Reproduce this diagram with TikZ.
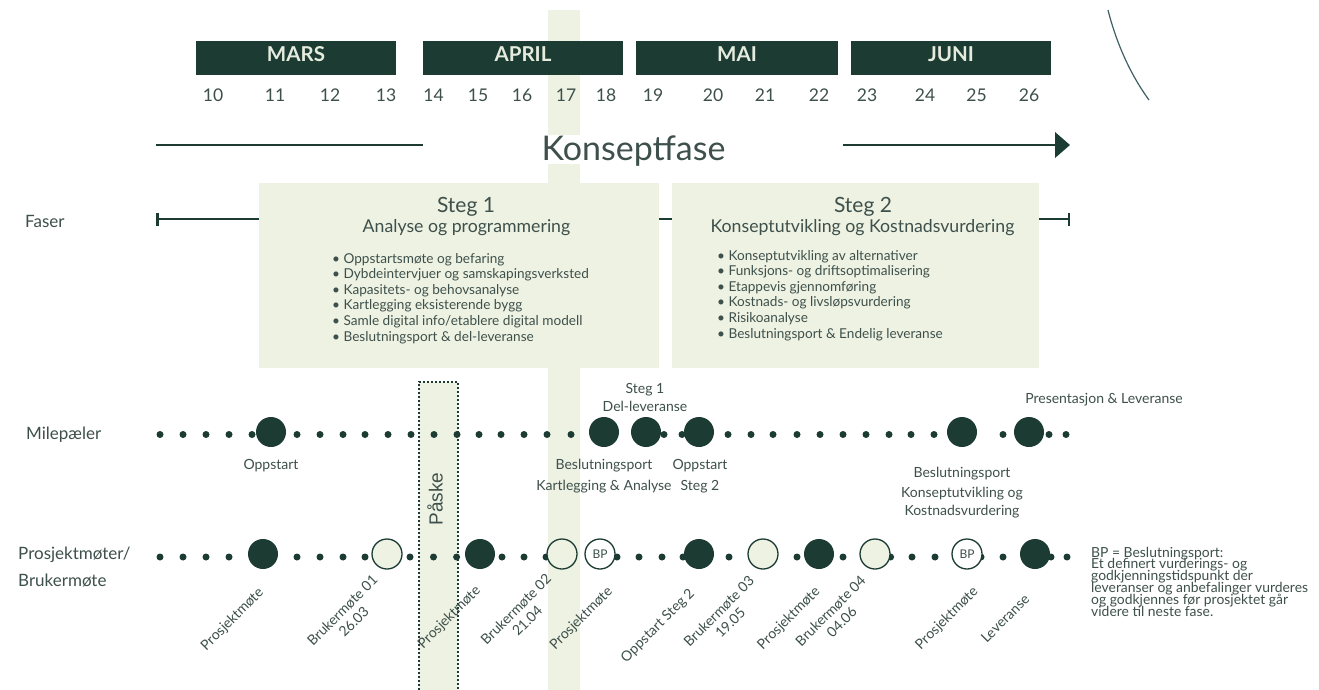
\documentclass[tikz,border=0pt]{standalone}
\usepackage{fontspec}
\setmainfont{Lato}
\newfontfamily\paskefont{Liberation Sans}
\usetikzlibrary{arrows.meta}
\definecolor{dkgreen}{HTML}{1B3B33}
\definecolor{ltgreen}{HTML}{EEF2E3}
\definecolor{txtgreen}{HTML}{3E504B}
\definecolor{arcblue}{HTML}{3E5F66}
\definecolor{monthtxt}{HTML}{E6ECDD}
\newcommand{\fsz}[2]{\fontsize{#1}{#2}\selectfont}
\begin{document}
\begin{tikzpicture}[x=1pt,y=-1pt,
  monthbox/.style={fill=dkgreen, minimum height=34pt, inner sep=0pt},
  monthlbl/.style={text=monthtxt, font=\fsz{20.5}{24}\bfseries, inner sep=0pt, anchor=base},
  weeknum/.style={text=txtgreen, font=\fsz{17.5}{20}, inner sep=0pt, anchor=base},
  rowlbl/.style={text=txtgreen, font=\fsz{17}{20}, inner sep=0pt, anchor=base west},
  stegbox/.style={fill=ltgreen, inner sep=0pt},
  stegtitle/.style={text=txtgreen, font=\fsz{21}{24}, inner sep=0pt, anchor=base},
  stegsub/.style={text=txtgreen, font=\fsz{17.7}{20}, inner sep=0pt, anchor=base},
  bulletline/.style={text=txtgreen, font=\fsz{13.6}{16}, inner sep=0pt, anchor=base west},
  mlbl/.style={text=txtgreen, font=\fsz{14}{16}, inner sep=0pt, anchor=base},
  rlbl/.style={text=txtgreen, font=\fsz{14}{16}, inner sep=0pt, rotate=45, align=center},
  notelbl/.style={text=txtgreen, font=\fsz{13.9}{12}, inner sep=0pt, anchor=base west},
  sdot/.style={circle, fill=dkgreen, inner sep=0pt, minimum size=7pt},
  bdot/.style={circle, fill=dkgreen, inner sep=0pt, minimum size=30pt},
  odot/.style={circle, fill=ltgreen, draw=dkgreen, line width=1.3pt, inner sep=0pt, minimum size=30pt},
  bpdot/.style={circle, fill=white, draw=dkgreen, line width=1.3pt, inner sep=0pt, minimum size=30pt, text=txtgreen, font=\fsz{12}{12}},
]
\useasboundingbox (0,0) rectangle (1319,690);
\fill[white] (0,0) rectangle (1319,690);

% vertical band (week 17)
\fill[ltgreen] (548,10) rectangle (580,690);
% Paske box
\fill[ltgreen] (419,382) rectangle (458,690);

% Faser line
\coordinate (fl) at (156,219);
\coordinate (fr) at (1070,219);
\draw[dkgreen, line width=2.5pt, {Bar[width=13pt]}-{Bar[width=13pt]}] (fl) -- (fr);

% Steg boxes
\node[stegbox, minimum width=400pt, minimum height=185pt] (steg1) at (459,275.5) {};
\node[stegbox, minimum width=367pt, minimum height=185pt] (steg2) at (855.5,275.5) {};
\node[stegtitle] (s1t) at (466,212.5) {Steg 1};
\node[stegsub] (s1s) at (466.5,232) {Analyse og programmering};
\node[stegtitle] (s2t) at (863,212.5) {Steg 2};
\node[stegsub] (s2s) at (862.5,232) {Konseptutvikling og Kostnadsvurdering};
\foreach \t [count=\i] in {Oppstartsmøte og befaring, Dybdeintervjuer og samskapingsverksted, Kapasitets- og behovsanalyse, Kartlegging eksisterende bygg, Samle digital info/etablere digital modell, Beslutningsport \& del-leveranse}
  \node[bulletline] (sa\i) at (332,{263+15.6*(\i-1)}) {• \t};
\foreach \t [count=\i] in {Konseptutvikling av alternativer, Funksjons- og driftsoptimalisering, Etappevis gjennomføring, Kostnads- og livsløpsvurdering, Risikoanalyse, Beslutningsport \& Endelig leveranse}
  \node[bulletline] (sb\i) at (717,{260+15.6*(\i-1)}) {• \t};

% Months
\node[monthbox, minimum width=200pt] (mars) at (296,58) {};
\node[monthbox, minimum width=200pt] (april) at (523,58) {};
\node[monthbox, minimum width=202pt] (mai) at (737,58) {};
\node[monthbox, minimum width=200pt] (juni) at (951,58) {};
\node[monthlbl] (marsl) at (296,62) {MARS};
\node[monthlbl] (aprill) at (523,62) {APRIL};
\node[monthlbl] (mail) at (737,62) {MAI};
\node[monthlbl] (junil) at (951,62) {JUNI};
\foreach \n/\x in {10/213, 11/275, 12/330, 13/386, 14/433.5, 15/478, 16/522, 17/566, 18/606, 19/653, 20/713, 21/765, 22/819, 23/867, 24/925, 25/976.5, 26/1029}
  \node[weeknum] (w\n) at (\x,101.5) {\n};

% Konseptfase
\fill[white] (540,135) rectangle (727,164);
\node[text=txtgreen, font=\fsz{34}{40}, inner sep=0pt, anchor=base] (kf) at (633.5,160) {Konseptfase};
\coordinate (kl1) at (156,145);
\coordinate (kl2) at (423,145);
\coordinate (kr1) at (843,145);
\coordinate (kr2) at (1057,145);
\coordinate (ktip) at (1070,145);
\draw[dkgreen, line width=2.8pt] (kl1) -- (kl2);
\draw[dkgreen, line width=2.8pt] (kr1) -- (kr2);
\fill[dkgreen] (1055,132) -- (ktip) -- (1055,158) -- cycle;

% arc top right
\draw[arcblue, line width=1.2pt] (1108,10) .. controls (1116,42) and (1130,74) .. (1149,100);

% Row labels
\node[rowlbl] (lfaser) at (25,227) {Faser};
\node[rowlbl] (lmile) at (26,439) {Milepæler};
\node[rowlbl] (lpro) at (18,559) {Prosjektmøter/};
\node[rowlbl] (lbru) at (18,586) {Brukermøte};

% Paske border
\draw[dkgreen, line width=1.6pt, dash pattern=on 1.6pt off 2.4pt] (419,690) -- (419,382) -- (458,382) -- (458,690);

% Milestone row
\foreach \x [count=\i] in {160,183,206,229,252,297,320,343,365,388,411,434,457,479,501,524,547,571,664,682,728,751,773,797,820,843,866,889,911,934,1003,1049,1066}
  \node[sdot] (ms\i) at (\x,434.5) {};
\foreach \x [count=\i] in {271,604,646,699,962,1029}
  \node[bdot] (mb\i) at (\x,432) {};

% Project meeting row
\foreach \x [count=\i] in {160,183,206,229,297,320,343,365,410,433.5,456.6,502,524,546,617,639,662,683,729,797,843,890.6,912,935,981,1003,1051,1067}
  \node[sdot] (ps\i) at (\x,557) {};
\foreach \x [count=\i] in {263,480,699,819,1035}
  \node[bdot] (pb\i) at (\x,554) {};
\foreach \x [count=\i] in {387,562,763,875}
  \node[odot] (po\i) at (\x,554) {};
\node[bpdot] (bp1) at (600,554) {BP};
\node[bpdot] (bp2) at (967,554) {BP};

% Paske label
\node[font=\paskefont\fsz{19}{22}, text=txtgreen, rotate=90, inner sep=0pt] (paske) at (435,499) {Påske};

% Milestone labels
\node[mlbl] (ml1) at (271,469) {Oppstart};
\node[mlbl] (ml2a) at (645,393) {Steg 1};
\node[mlbl] (ml2b) at (645,411) {Del-leveranse};
\node[mlbl] (ml3a) at (604,469) {Beslutningsport};
\node[mlbl] (ml3b) at (604,490) {Kartlegging \& Analyse};
\node[mlbl] (ml4a) at (700,469) {Oppstart};
\node[mlbl] (ml4b) at (700,490) {Steg 2};
\node[mlbl] (ml5a) at (962,477) {Beslutningsport};
\node[mlbl] (ml5b) at (962,497) {Konseptutvikling og};
\node[mlbl] (ml5c) at (962,515) {Kostnadsvurdering};
\node[mlbl] (ml6) at (1104,403) {Presentasjon \& Leveranse};

% Rotated labels
\node[rlbl] (r1) at (232.5,619.5) {Prosjektmøte};
\node[rlbl] (r2) at (348,616) {Brukermøte 01\\26.03};
\node[rlbl] (r3) at (449.5,617.5) {Prosjektmøte};
\node[rlbl] (r4) at (521.5,615) {Brukermøte 02\\21.04};
\node[rlbl] (r5) at (581.5,618.5) {Prosjektmøte};
\node[rlbl] (r6) at (658,626) {Oppstart Steg 2};
\node[rlbl] (r7) at (724.5,617) {Brukermøte 03\\19.05};
\node[rlbl] (r8) at (789,618.5) {Prosjektmøte};
\node[rlbl] (r9) at (836,616.5) {Brukermøte 04\\04.06};
\node[rlbl] (r10) at (947,618.5) {Prosjektmøte};
\node[rlbl] (r11) at (1005,618.5) {Leveranse};

% BP note
\foreach \t [count=\i] in {BP = Beslutningsport:, Et definert vurderings- og, godkjenningstidspunkt der, leveranser og anbefalinger vurderes, og godkjennes før prosjektet går, videre til neste fase.}
  \node[notelbl] (note\i) at (1091,{557+11.8*(\i-1)}) {\t};
\end{tikzpicture}
\end{document}
